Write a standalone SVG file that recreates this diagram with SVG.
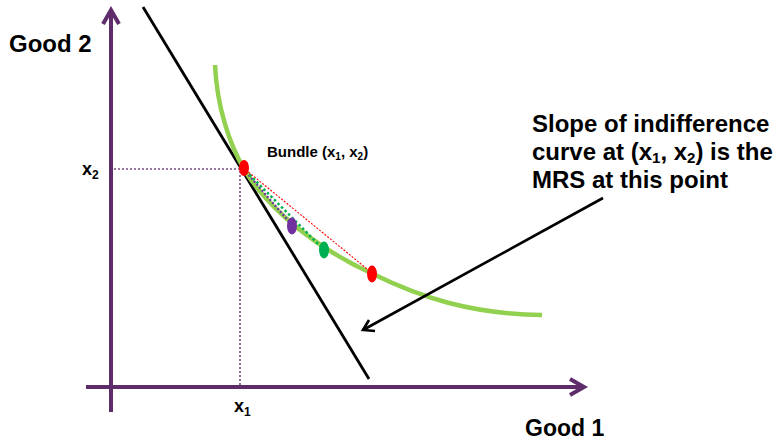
<svg xmlns="http://www.w3.org/2000/svg" width="778" height="441" viewBox="0 0 778 441">
<style>
.t{font-family:"Liberation Sans",Arial,sans-serif;font-weight:bold;fill:#000}
.axis{stroke:#5F2C6B;stroke-width:4;fill:none}
.guide{stroke:#7A4A85;stroke-width:1.6;stroke-dasharray:2,2;fill:none}
</style>
<rect width="778" height="441" fill="#fff"/>
<g id="axes">
<line class="axis" x1="111" y1="412" x2="111" y2="11"/>
<polyline class="axis" points="103,24 111,10 119,24" stroke-linejoin="miter"/>
<line class="axis" x1="86" y1="387" x2="582" y2="387"/>
<polyline class="axis" points="570,379 584,387 570,395"/>
</g>
<g id="guides">
<line class="guide" x1="114" y1="169" x2="243" y2="169"/>
<line class="guide" x1="240" y1="171" x2="240" y2="386"/>
</g>
<g id="budget-line">
<line x1="143" y1="7" x2="369" y2="379" stroke="#000" stroke-width="2.8"/>
</g>
<g id="indifference-curve">
<path d="M215,65 C217,108 230,145 244,169 C270,212 320,250 373,274 C420,297 470,314 542,315" stroke="#92D050" stroke-width="4.5" fill="none"/>
</g>
<g id="chords">
<line x1="246" y1="172" x2="292" y2="225" stroke="#7030A0" stroke-width="2.2" stroke-dasharray="2,2"/>
<line x1="246" y1="171" x2="324" y2="250" stroke="#00B050" stroke-width="2.5" stroke-dasharray="2.5,2.5"/>
<line x1="246" y1="170" x2="372" y2="273" stroke="#FF0000" stroke-width="1.1" stroke-dasharray="2,1.5"/>
</g>
<g id="points">
<ellipse cx="244" cy="168" rx="5" ry="8" fill="#FF0000"/>
<ellipse cx="292" cy="226" rx="5" ry="8.5" fill="#7030A0"/>
<ellipse cx="324" cy="250" rx="5" ry="8.5" fill="#00B050"/>
<ellipse cx="372" cy="274" rx="5" ry="8.5" fill="#FF0000"/>
</g>
<g id="annotation-arrow">
<line x1="603" y1="198" x2="363" y2="330" stroke="#000" stroke-width="2.6"/>
<polyline points="375,331 363,330 369,320" stroke="#000" stroke-width="2.6" fill="none"/>
</g>
<g id="labels">
<text class="t" x="9" y="52" font-size="24">Good 2</text>
<text class="t" x="525" y="436" font-size="23">Good 1</text>
<text class="t" x="82" y="175" font-size="18">x<tspan font-size="12" dy="4">2</tspan></text>
<text class="t" x="234" y="412" font-size="18">x<tspan font-size="12" dy="4">1</tspan></text>
<text class="t" x="267" y="157" font-size="15">Bundle (x<tspan font-size="10" dy="3">1</tspan><tspan dy="-3">, x</tspan><tspan font-size="10" dy="3">2</tspan><tspan dy="-3">)</tspan></text>
<text class="t" x="532" y="132" font-size="24">Slope of indifference</text>
<text class="t" x="532" y="160" font-size="24">curve at (x<tspan font-size="15" dy="3">1</tspan><tspan dy="-3">, x</tspan><tspan font-size="15" dy="3">2</tspan><tspan dy="-3">) is the</tspan></text>
<text class="t" x="532" y="188" font-size="24">MRS at this point</text>
</g>
</svg>
